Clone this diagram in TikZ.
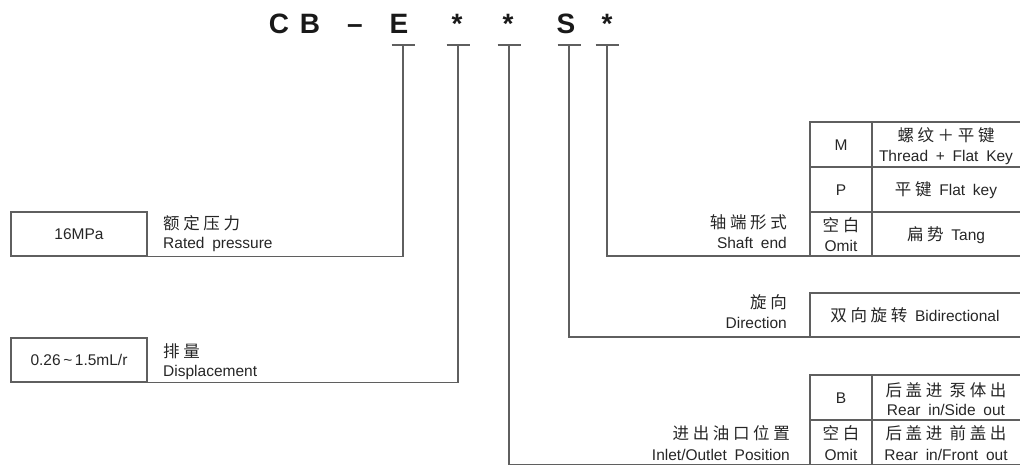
\documentclass[tikz,border=0pt]{standalone}
\usepackage{fontspec}
\setmainfont{Liberation Sans}[WordSpace=1.8]
\newfontfamily\cjk[LetterSpace=22]{Noto Sans CJK SC}
\begin{document}
\begin{tikzpicture}[x=1pt,y=-1pt,
  ln/.style={draw={rgb,255:red,95;green,95;blue,95}, line width=1.1pt},
  hd/.style={font=\fontsize{28}{28}\selectfont\bfseries, anchor=base, inner sep=0pt, text=black!90},
  tx/.style={font=\fontsize{15.5}{16}\selectfont, inner sep=0pt, text=black!85},
  cj/.style={font=\fontsize{16.5}{17}\selectfont\cjk, inner sep=0pt, text=black!85},
  lbox/.style={ln, minimum width=136pt, minimum height=44pt, inner sep=0pt, font=\fontsize{15.5}{16}\selectfont, text=black!85}]
\useasboundingbox (0,0) rectangle (1020,466);
% header
\node[hd] (hC) at (279,33) {C};
\node[hd] (hB) at (310,33) {B};
\node[hd] (hD) at (355,33) {--};
\node[hd] (hE) at (399,33) {E};
\node[hd] (h1) at (457,33) {*};
\node[hd] (h2) at (508,33) {*};
\node[hd] (hS) at (566,33) {S};
\node[hd] (h3) at (607,33) {*};
% T bars
\foreach \n/\x in {tE/403,t1/458,t2/509,tS/569,t3/607}{
  \coordinate (\n) at (\x,45);
  \draw[ln] (\x-11.5,45) -- (\x+11.5,45);
}
% left boxes
\node[lbox] (pbox) at (79,234) {16MPa};
\node[lbox] (dbox) at (79,360) {0.26\,\textasciitilde\,1.5mL/r};
\draw[ln] (tE) |- (pbox.south west);
\draw[ln] (t1) |- (dbox.south west);
\node[cj, anchor=west] (pcn) at (163,223) {额定压力};
\node[tx, anchor=west] (pen) at (163,244) {Rated pressure};
\node[cj, anchor=west] (dcn) at (163,351) {排量};
\node[tx, anchor=west] (den) at (163,372) {Displacement};
% shaft end table
\coordinate (sSE) at (1020,256);
\draw[ln] (t3) |- (sSE);
\draw[ln] (810,256) -- (810,122) -- (1020,122);
\draw[ln] (872,122) -- (872,256);
\draw[ln] (810,167) -- (1020,167);
\draw[ln] (810,212) -- (1020,212);
\node[cj, anchor=east] (scn) at (787,222) {轴端形式};
\node[tx, anchor=east] (sen) at (787,243) {Shaft end};
\node[tx] (sM) at (841,145) {M};
\node[cj] (sMc) at (946,135) {螺纹＋平键};
\node[tx] (sMe) at (946,157) {Thread + Flat Key};
\node[tx] (sP) at (841,190) {P};
\node[tx] (sPt) at (946,190) {{\cjk\fontsize{16.5}{17}\selectfont 平键} Flat key};
\node[cj] (sOc) at (841,225) {空白};
\node[tx] (sOe) at (841,246) {Omit};
\node[tx] (sOt) at (946,235) {{\cjk\fontsize{16.5}{17}\selectfont 扁势} Tang};
% direction
\coordinate (dSE) at (1020,337);
\draw[ln] (tS) |- (dSE);
\draw[ln] (810,337) -- (810,293) -- (1020,293);
\node[cj, anchor=east] (rcn) at (787,302) {旋向};
\node[tx, anchor=east] (ren) at (787,323) {Direction};
\node[tx] (rt) at (915,315) {{\cjk\fontsize{16.5}{17}\selectfont 双向旋转} Bidirectional};
% inlet/outlet
\coordinate (iSE) at (1020,464.5);
\draw[ln] (t2) |- (iSE);
\draw[ln] (810,464.5) -- (810,375) -- (1020,375);
\draw[ln] (872,375) -- (872,464.5);
\draw[ln] (810,420) -- (1020,420);
\node[cj, anchor=east] (icn) at (790,433) {进出油口位置};
\node[tx, anchor=east] (ien) at (790,455) {Inlet/Outlet Position};
\node[tx] (iB) at (841,398) {B};
\node[cj] (iBc) at (946,390) {后盖进\ 泵体出};
\node[tx] (iBe) at (946,410) {Rear in/Side out};
\node[cj] (iOc) at (841,433) {空白};
\node[tx] (iOe) at (841,455) {Omit};
\node[cj] (iOt) at (946,433) {后盖进\ 前盖出};
\node[tx] (iOte) at (946,455) {Rear in/Front out};
\end{tikzpicture}
\end{document}
